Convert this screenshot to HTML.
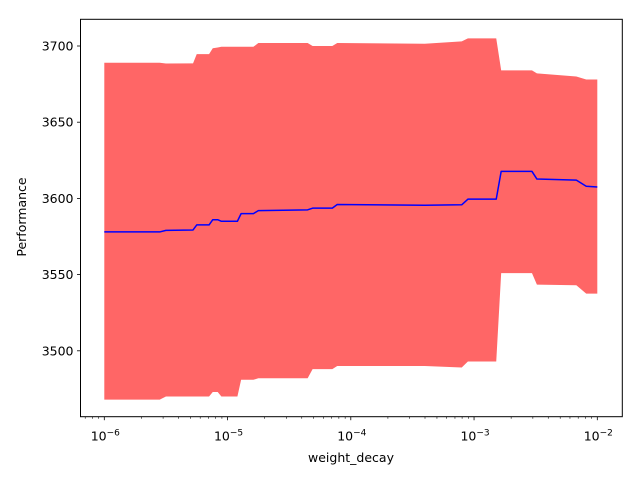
<!DOCTYPE html>
<html><head><meta charset="utf-8"><style>
html,body{margin:0;padding:0;background:#fff;}
svg{display:block;font-family:"DejaVu Sans","Liberation Sans",sans-serif;}
</style></head><body>
<svg id="chart" width="640" height="480" viewBox="0 0 640 480">
<rect width="640" height="480" fill="#fff"/>
<g id="plot"></g>
</svg>
<script>
const logX = [-6.0,-5.55,-5.5,-5.28,-5.25,-5.15,-5.12,-5.08,-5.05,-4.92,-4.89,-4.79,-4.75,-4.35,-4.31,-4.15,-4.11,-3.4,-3.1,-3.05,-2.82,-2.78,-2.53,-2.49,-2.17,-2.09,-2.0];
const meanVals = [3578,3578,3579,3579.3,3582.6,3582.6,3586,3586,3585,3585,3590,3590,3592,3592.5,3593.6,3593.6,3596,3595.5,3595.8,3599.5,3599.5,3617.7,3617.7,3612.7,3612,3608,3607.5];
const upperVals = [3689,3689,3688.5,3688.6,3694.7,3694.7,3698.5,3699,3699.5,3699.5,3699.5,3699.5,3702,3702,3700,3700,3702,3701.5,3703,3705,3705,3684,3684,3682,3680,3678,3678];
const lowerVals = [3468,3468,3470,3470,3470,3470,3473,3473,3470,3470,3481,3481,3482,3482,3488,3488,3490,3490,3489,3493,3493,3551,3551,3543.4,3543,3537.5,3537.5];
const yTicks = [3500,3550,3600,3650,3700];
const xTickExps = [-6,-5,-4,-3,-2];

const NS="http://www.w3.org/2000/svg";
const L=80.5,R=622.3,T=19.3,B=416.7;
function xs(e){return 104.3+(e+6)*123.25;}
function ys(v){return 46+(3700-v)*(76.2/50);}
const g=document.getElementById('plot');
function mk(tag,attrs,parent){const el=document.createElementNS(NS,tag);for(const k in attrs)el.setAttribute(k,attrs[k]);(parent||g).appendChild(el);return el;}

let d="";
logX.forEach((e,i)=>{d+=(i?"L":"M")+xs(e).toFixed(2)+","+ys(upperVals[i]).toFixed(2);});
for(let i=logX.length-1;i>=0;i--){d+="L"+xs(logX[i]).toFixed(2)+","+ys(lowerVals[i]).toFixed(2);}
d+="Z";
const band=mk('path',{d:d,fill:'#ff6666',stroke:'none'});



let ld="";
logX.forEach((e,i)=>{ld+=(i?"L":"M")+xs(e).toFixed(2)+","+ys(meanVals[i]).toFixed(2);});
const line=mk('path',{d:ld,fill:'none',stroke:'#0000ff','stroke-width':1.5,'stroke-linejoin':'round'});



const frame=mk('rect',{x:L,y:T,width:R-L,height:B-T,fill:'none',stroke:'#000','stroke-width':1});



yTicks.forEach(v=>{
  const y=ys(v);
  mk('line',{x1:L,x2:L-3.5,y1:y,y2:y,stroke:'#000','stroke-width':0.8});
  const t=mk('text',{x:L-7,y:y+4.5,'text-anchor':'end','font-size':'12.5px',fill:'#000'});
  t.textContent=v;
  
  
});
for(let e=-7;e<=-2;e++){
  for(let m=2;m<=9;m++){
    const x=xs(e+Math.log10(m));
    if(x<L||x>R)continue;
    mk('line',{x1:x,x2:x,y1:B,y2:B+2,stroke:'#000','stroke-width':0.6});
  }
}
xTickExps.forEach(e=>{
  const x=xs(e);
  mk('line',{x1:x,x2:x,y1:B,y2:B+3.5,stroke:'#000','stroke-width':0.8});
  const t=mk('text',{x:x+1,y:B+24,'text-anchor':'middle','font-size':'12.5px',fill:'#000'});
  
  
  const b=mk('tspan',{},t);b.textContent="10";
  const s=mk('tspan',{dy:-5,'font-size':'9px'},t);s.textContent="\u2212"+(-e);
});
const xl=mk('text',{x:351,y:462,'text-anchor':'middle','font-size':'12.5px',fill:'#000'});
xl.textContent="weight_decay";


const yl=mk('text',{x:0,y:0,'text-anchor':'middle','font-size':'12.5px',fill:'#000',transform:'translate(26,217) rotate(-90)'});
yl.textContent="Performance";


</script>
</body></html>
